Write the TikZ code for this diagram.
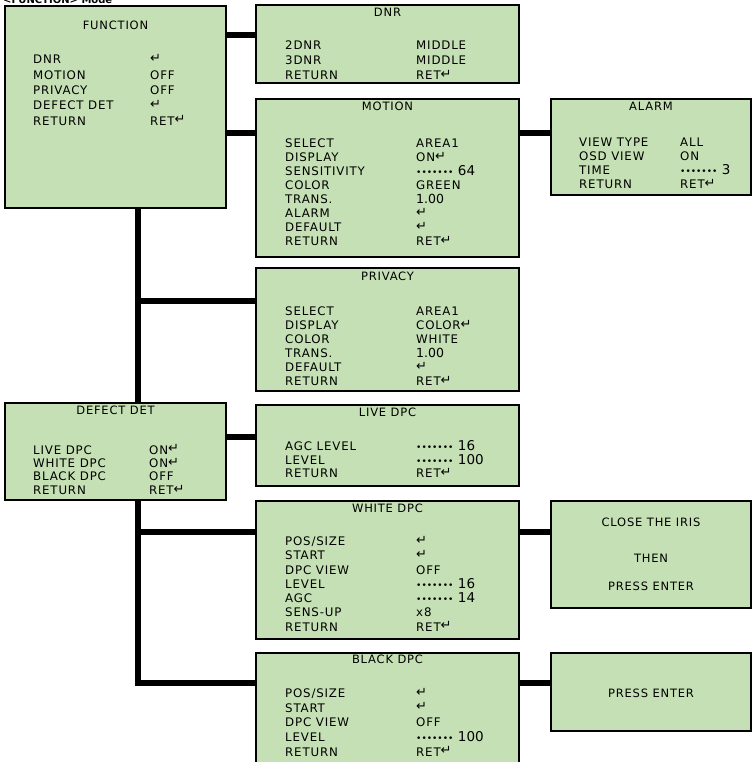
\documentclass[tikz,border=0pt]{standalone}
\usepackage{fontspec}
\usetikzlibrary{fit}
\newfontfamily\osdfont{DejaVu Sans}[LetterSpace=7]
\newfontfamily\headfont{DejaVu Sans}
\definecolor{osdgreen}{HTML}{C5E0B4}

\tikzstyle{menubox}=[draw,line width=1.8pt,fill=osdgreen,inner sep=0pt]
\tikzstyle{link} = [draw,line width=6pt,line join=miter]
\tikzstyle{heading} = [anchor=base,font=\osdfont\fontsize{11.5}{13}\selectfont,inner sep=0pt]
\tikzstyle{items} = [anchor=base west,font=\osdfont,inner sep=0pt]
\newcommand{\enter}{\raisebox{0.2ex}{\headfont\fontsize{13}{13}\selectfont ↵}}
\newcommand{\levelbar}{{\headfont\fontsize{9}{9}\selectfont •••••••}}
\newcommand{\val}[2][13.5]{{\headfont\fontsize{#1}{#1}\selectfont #2}}
\newcommand{\menurows}[3]{\fontsize{11.8}{#1}\selectfont
  \begin{tabular}[t]{@{}p{#2pt}@{}l@{}}#3\end{tabular}}

\begin{document}
\begin{tikzpicture}[x=1pt, y=-1pt]
    \useasboundingbox (0,0) rectangle (753,762);
    \node[anchor=base west,inner sep=0pt,font=\headfont\bfseries] (mode) at (3,4) {<FUNCTION> Mode};
    % First we draw the menu boxes
    \foreach \name/\xa/\ya/\xb/\yb in {func/5/6/226/208, defect/5/403/226/500,
        dnr/256/5/519/83, motion/256/99/519/257, privacy/256/268/519/391,
        live/256/405/519/486, white/256/501/519/639, black/256/653/519/775,
        alarm/551/99/751/195, iris/551/501/751/608, enter/551/653/751/731}
        \node[menubox, fit={(\xa,\ya) (\xb,\yb)}] (\name) {};
    % Menu titles
    \foreach \name/\title/\drop in {func/FUNCTION/24, defect/DEFECT DET/12,
        dnr/DNR/12, motion/MOTION/12, privacy/PRIVACY/13, live/LIVE DPC/12,
        white/WHITE DPC/12, black/BLACK DPC/11, alarm/ALARM/12}
        \node[heading] (\name-title) at ([yshift=-\drop pt]\name.north) {\title};
    % Menu items
    \node[items] (func-items) at (33,64) {\menurows{15.3}{117}{%
        DNR & \enter \\ MOTION & OFF \\ PRIVACY & OFF \\
        DEFECT DET & \enter \\ RETURN & RET\enter}};
    \node[items] (dnr-items) at (285,49.3) {\menurows{15}{131}{%
        2DNR & MIDDLE \\ 3DNR & MIDDLE \\ RETURN & RET\enter}};
    \node[items] (motion-items) at (285,147.3) {\menurows{14.06}{131}{%
        SELECT & AREA1 \\ DISPLAY & ON\enter \\ SENSITIVITY & \levelbar\ \val{64} \\
        COLOR & GREEN \\ TRANS. & \val[12.5]{1.00} \\ ALARM & \enter \\
        DEFAULT & \enter \\ RETURN & RET\enter}};
    \node[items] (alarm-items) at (579,146.3) {\menurows{14}{101}{%
        VIEW TYPE & ALL \\ OSD VIEW & ON \\ TIME & \levelbar\ \val{3} \\
        RETURN & RET\enter}};
    \node[items] (privacy-items) at (285,315.6) {\menurows{14.06}{131}{%
        SELECT & AREA1 \\ DISPLAY & COLOR\enter \\ COLOR & WHITE \\
        TRANS. & \val[12.5]{1.00} \\ DEFAULT & \enter \\ RETURN & RET\enter}};
    \node[items] (defect-items) at (33,454) {\menurows{13.4}{116}{%
        LIVE DPC & ON\enter \\ WHITE DPC & ON\enter \\ BLACK DPC & OFF \\
        RETURN & RET\enter}};
    \node[items] (live-items) at (285,450) {\menurows{13.4}{131}{%
        AGC LEVEL & \levelbar\ \val{16} \\ LEVEL & \levelbar\ \val{100} \\
        RETURN & RET\enter}};
    \node[items] (white-items) at (285,545.6) {\menurows{14.27}{131}{%
        POS/SIZE & \enter \\ START & \enter \\ DPC VIEW & OFF \\
        LEVEL & \levelbar\ \val{16} \\ AGC & \levelbar\ \val{14} \\
        SENS-UP & x8 \\ RETURN & RET\enter}};
    \node[items] (black-items) at (285,697.3) {\menurows{14.7}{131}{%
        POS/SIZE & \enter \\ START & \enter \\ DPC VIEW & OFF \\
        LEVEL & \levelbar\ \val{100} \\ RETURN & RET\enter}};
    \node[heading] (iris-1) at (651,526) {CLOSE THE IRIS};
    \node[heading] (iris-2) at (651,562) {THEN};
    \node[heading] (iris-3) at (651,590) {PRESS ENTER};
    \node[heading] (enter-1) at (651,697) {PRESS ENTER};
    % Connect menus with links
    \foreach \source/\dest/\level in {func/dnr/35.5, func/motion/133.5,
        motion/alarm/133.5, defect/live/437, white/iris/532, black/enter/683.3}
        \path[link] (\source.east |- 0,\level) -- (\dest.west |- 0,\level);
    \coordinate (fork-privacy) at (137.5,301);
    \coordinate (fork-white) at (137.5,532);
    \coordinate (fork-black) at (137.5,683.3);
    \path[link] (func.south -| fork-privacy) -- (defect.north -| fork-privacy);
    \path[link] (fork-privacy) -- (privacy.west |- fork-privacy);
    \path[link] (defect.south -| fork-black) -- (fork-black) -- (black.west |- fork-black);
    \path[link] (fork-white) -- (white.west |- fork-white);
\end{tikzpicture}
\end{document}
